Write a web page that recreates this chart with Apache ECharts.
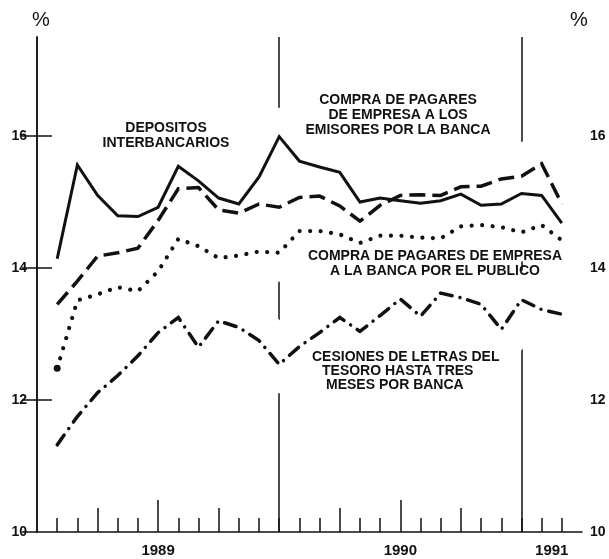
<!DOCTYPE html>
<html>
<head>
<meta charset="utf-8">
<script src="https://cdn.jsdelivr.net/npm/echarts@6/dist/echarts.min.js"></script>
<style>
  html, body { margin: 0; padding: 0; background: #fff; }
  #chart { width: 609px; height: 559px; }
</style>
</head>
<body>
<div id="chart"></div>
<script>
// Month-end observations, counted in months from 1 January 1989 (Jan-89 .. Feb-91)
const periodEnd = [1, 2, 3, 4, 5, 6, 7, 8, 9, 10, 11, 12, 13, 14, 15, 16, 17, 18, 19, 20, 21, 22, 23, 24, 25, 26];

// Rates, %
const depositosInterbancarios = [14.14, 15.56, 15.10, 14.79, 14.78, 14.92, 15.54, 15.32, 15.06, 14.97, 15.38, 15.99, 15.62, 15.53, 15.45, 15.00, 15.06, 15.02, 14.98, 15.02, 15.12, 14.95, 14.97, 15.13, 15.10, 14.68];
const pagaresEmisores = [13.45, 13.80, 14.18, 14.23, 14.30, 14.72, 15.20, 15.22, 14.88, 14.83, 14.97, 14.92, 15.07, 15.09, 14.94, 14.71, 14.95, 15.10, 15.11, 15.10, 15.23, 15.24, 15.35, 15.39, 15.58, 14.97];
const pagaresPublico = [12.48, 13.51, 13.60, 13.71, 13.65, 13.95, 14.44, 14.33, 14.15, 14.19, 14.25, 14.23, 14.56, 14.56, 14.51, 14.38, 14.49, 14.49, 14.46, 14.45, 14.63, 14.65, 14.62, 14.54, 14.65, 14.42];
const cesionesLetras = [11.32, 11.75, 12.11, 12.37, 12.67, 13.02, 13.25, 12.80, 13.20, 13.10, 12.90, 12.54, 12.81, 13.02, 13.25, 13.04, 13.28, 13.53, 13.27, 13.62, 13.55, 13.45, 13.07, 13.52, 13.37, 13.30];

// Time axis: month boundaries, quarter boundaries, mid-year marks, year starts
const monthTicks = [1, 2, 3, 4, 5, 6, 7, 8, 9, 10, 11, 12, 13, 14, 15, 16, 17, 18, 19, 20, 21, 22, 23, 24, 25, 26];
const quarterTicks = [3, 9, 15, 21];
const midYearTicks = [6, 18];
const yearBreaks = [12, 24];
const yearLabels = ['1989', '1990', '1991'];
const yearLabelPos = [6, 18, 25.5];
const monthSpan = [0, 27];

// Value axis
const yRange = [10, 17.5];
const yTickValues = [12, 14, 16];
const yLabelValues = [10, 12, 14, 16];

const INK = '#111';
const W = 609, H = 559;
const PLOT = { left: 37, right: 27, top: 37, bottom: 27 };

const chart = echarts.init(document.getElementById('chart'), null, { renderer: 'canvas' });

const pts = vals => periodEnd.map((m, i) => [m, vals[i]]);

function timeAxis(ticks, len, extra) {
  return Object.assign({
    type: 'value', min: monthSpan[0], max: monthSpan[1], position: 'bottom', z: 6, gridIndex: 0,
    axisLine: { show: false },
    axisTick: { show: true, inside: true, length: len, customValues: ticks, lineStyle: { color: INK, width: 1.5 } },
    axisLabel: { show: false },
    splitLine: { show: false }
  }, extra || {});
}

const labelStyle = { color: INK, fontFamily: 'Liberation Sans', fontWeight: 'bold', fontSize: 14 };

// Right-hand tick marks live on a second grid that ends at the top tick value,
// sharing the same scale, so no mark is drawn at the axis end.
const plotH = H - PLOT.top - PLOT.bottom;
const pxPerUnit = plotH / (yRange[1] - yRange[0]);
const topTick = yTickValues[yTickValues.length - 1];
const tickGridTop = PLOT.top + (yRange[1] - topTick) * pxPerUnit;

// White band under each curve keeps the year-break rules from running through it
function halo(vals) {
  return {
    type: 'line', data: pts(vals), z: 1, silent: true, symbol: 'none', clip: true,
    lineStyle: { color: '#fff', width: 58, cap: 'round', join: 'round' }
  };
}

function curve(name, vals, style, extra) {
  return Object.assign({
    name: name, type: 'line', data: pts(vals), z: 3, silent: true, symbol: 'none',
    lineStyle: Object.assign({ color: INK, width: 3, join: 'miter' }, style)
  }, extra || {});
}

const publicoData = pts(pagaresPublico);
publicoData[0] = { value: publicoData[0], symbol: 'circle', symbolSize: 7, itemStyle: { color: INK } };

const textFont = 'bold 14px "Liberation Sans"';
function label(x, y, text, align) {
  return {
    type: 'text', x: x, y: y, z: 20, silent: true,
    style: { text: text, font: textFont, fill: INK, align: align || 'center', textAlign: align || 'center',
      verticalAlign: 'middle', textVerticalAlign: 'middle', lineHeight: 15 }
  };
}
function unit(x) {
  return {
    type: 'text', x: x, y: 20, z: 20, silent: true,
    style: { text: '%', font: '20px "Liberation Sans"', fill: INK, align: 'center', textAlign: 'center',
      verticalAlign: 'middle', textVerticalAlign: 'middle' }
  };
}

chart.setOption({
  animation: false,
  backgroundColor: '#fff',
  grid: [
    Object.assign({ containLabel: false }, PLOT),
    { left: PLOT.left, right: PLOT.right, top: tickGridTop, bottom: PLOT.bottom, containLabel: false }
  ],
  xAxis: [
    timeAxis(monthTicks, 14, { axisLine: { show: true, lineStyle: { color: INK, width: 1.5 } } }),
    timeAxis(quarterTicks, 24),
    timeAxis(midYearTicks, 32),
    timeAxis([], 0, {
      axisTick: { show: false },
      axisLabel: Object.assign({
        show: true, customValues: yearLabelPos, margin: 11, fontSize: 15,
        formatter: v => { const i = yearLabelPos.indexOf(v); return i >= 0 ? yearLabels[i] : ''; }
      }, { color: INK, fontFamily: 'Liberation Sans', fontWeight: 'bold' })
    }),
    { type: 'value', gridIndex: 1, min: monthSpan[0], max: monthSpan[1], show: false }
  ],
  yAxis: [
    {
      type: 'value', position: 'left', min: yRange[0], max: yRange[1], interval: 2, z: 6, gridIndex: 0,
      axisLine: { show: true, lineStyle: { color: INK, width: 1.5 } },
      axisTick: { show: true, inside: true, length: 15, customValues: yTickValues, lineStyle: { color: INK, width: 1.5 } },
      axisLabel: Object.assign({ show: true, customValues: yLabelValues, margin: 10 }, labelStyle),
      splitLine: { show: false }
    },
    {
      type: 'value', position: 'right', min: yRange[0], max: yRange[1], interval: 2, z: 6, gridIndex: 0,
      axisLine: { show: true, lineStyle: { color: INK, width: 1.5 } },
      axisTick: { show: false },
      axisLabel: Object.assign({ show: true, customValues: yLabelValues, margin: 8 }, labelStyle),
      splitLine: { show: false }
    },
    {
      type: 'value', position: 'right', min: yRange[0], max: topTick, interval: 2, z: 6, gridIndex: 1,
      axisLine: { show: false },
      axisTick: { show: true, inside: true, length: 15, lineStyle: { color: INK, width: 1.5 } },
      axisLabel: { show: false },
      splitLine: { show: false }
    }
  ],
  series: [
    {
      type: 'line', data: [], z: 0, silent: true,
      markLine: {
        z: 0, silent: true, symbol: 'none', label: { show: false },
        lineStyle: { color: INK, width: 1.5, type: 'solid' },
        data: yearBreaks.map(v => ({ xAxis: v }))
      }
    },
    halo(depositosInterbancarios),
    halo(pagaresEmisores),
    halo(pagaresPublico),
    halo(cesionesLetras),
    curve('Depósitos interbancarios', depositosInterbancarios, { width: 3 }),
    curve('Pagarés a los emisores', pagaresEmisores, { width: 3.5, type: [16, 7], cap: 'butt' }),
    Object.assign(curve('Pagarés al público', pagaresPublico, { width: 4.2, type: [0.01, 10.5], cap: 'round' }),
      { data: publicoData, symbol: 'none', showSymbol: true }),
    curve('Cesiones de letras', cesionesLetras, { width: 3.5, type: [12, 8, 0.01, 8], cap: 'round' })
  ],
  graphic: [
    unit(41),
    unit(579),
    label(166, 136, 'DEPOSITOS\nINTERBANCARIOS'),
    label(398, 115, 'COMPRA DE PAGARES\nDE EMPRESA A LOS\nEMISORES POR LA BANCA'),
    label(435, 264, 'COMPRA DE PAGARES DE EMPRESA\nA LA BANCA POR EL PUBLICO'),
    label(312, 357, 'CESIONES DE LETRAS DEL', 'left'),
    label(322, 371, 'TESORO HASTA TRES', 'left'),
    label(326, 385, 'MESES POR BANCA', 'left')
  ]
});
</script>
</body>
</html>
